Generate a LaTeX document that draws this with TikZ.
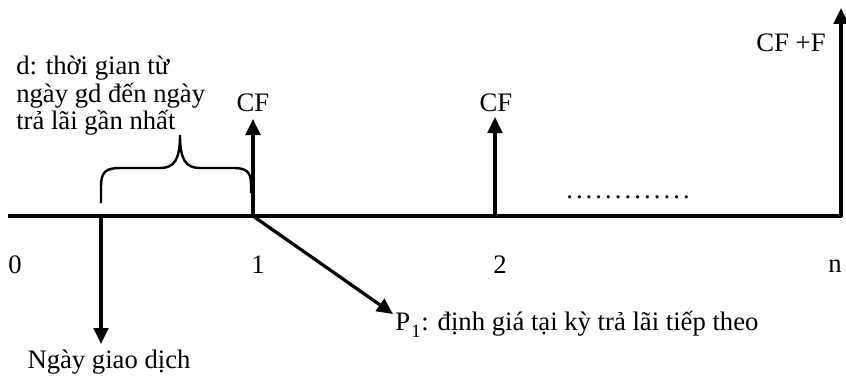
\documentclass[tikz,border=0pt]{standalone}
\usepackage{fontspec}
\setmainfont{Liberation Serif}
\usetikzlibrary{arrows.meta}
\begin{document}
\begin{tikzpicture}[x=0.75pt,y=-0.75pt,
  lbl/.style={inner sep=0pt,font=\fontsize{20}{20.6}\selectfont},
  axisline/.style={line width=2.4pt},
  uparrow/.style={line width=2.4pt,-{Triangle[length=12pt,width=11pt]}},
  bracestyle/.style={line width=1.8pt}]
\useasboundingbox (0,0) rectangle (846,378);
% axis
\coordinate (a0) at (8,216);
\coordinate (an) at (842,216);
\coordinate (td) at (101,216);
\coordinate (t1) at (253,216);
\coordinate (t2) at (495,216);
\coordinate (tn) at (841,217);
\coordinate (tntop) at (841,8);
\coordinate (t1top) at (253,119);
\coordinate (t2top) at (495,117);
\coordinate (tdbot) at (101,344);
\coordinate (p1tip) at (393,314);
\draw[axisline] (a0) -- (an);
% labels
\node[lbl] (n0) at (15,265) {0};
\node[lbl] (n1) at (258,265) {1};
\node[lbl] (n2) at (500,265) {2};
\node[lbl] (nn) at (835,266) {n};
\node[lbl] (cf1) at (253,103) {CF};
\node[lbl] (cf2) at (496,103) {CF};
\node[lbl] (cfn) at (791,43) {CF +F};
\node[lbl,anchor=north west,align=left] (dtxt) at (16,56) {d: thời gian từ\\ngày gd đến ngày\\trả lãi gần nhất};
\node[lbl] (ngay) at (109,362) {Ngày giao dịch};
\node[lbl,anchor=west] (p1) at (395,324) {P\textsubscript{\kern1pt\raisebox{-2pt}{1}}: định giá tại kỳ trả lãi tiếp theo};
\node[lbl] (dots) at (628,197) {.\kern2.3pt.\kern2.3pt.\kern2.3pt.\kern2.3pt.\kern2.3pt.\kern2.3pt.\kern2.3pt.\kern2.3pt.\kern2.3pt.\kern2.3pt.\kern2.3pt.\kern2.3pt.};
% arrows
\draw[uparrow] (t1) -- (t1top);
\draw[uparrow] (t2) -- (t2top);
\draw[uparrow] (tn) -- (tntop);
\draw[uparrow] (td) -- (tdbot);
\draw[uparrow] (t1) -- (p1tip);
% brace
\coordinate (bl) at (101,203);
\coordinate (br) at (251,193);
\coordinate (btip) at (180,135);
\draw[bracestyle] (bl) -- (101,186) .. controls (101,172) and (106,168) .. (120,168)
  -- (160,168) .. controls (174,168) and (180,160) .. (btip)
  .. controls (180,160) and (186,168) .. (200,168)
  -- (234,168) .. controls (246,168) and (251,172) .. (251,184) -- (br);
\end{tikzpicture}
\end{document}
